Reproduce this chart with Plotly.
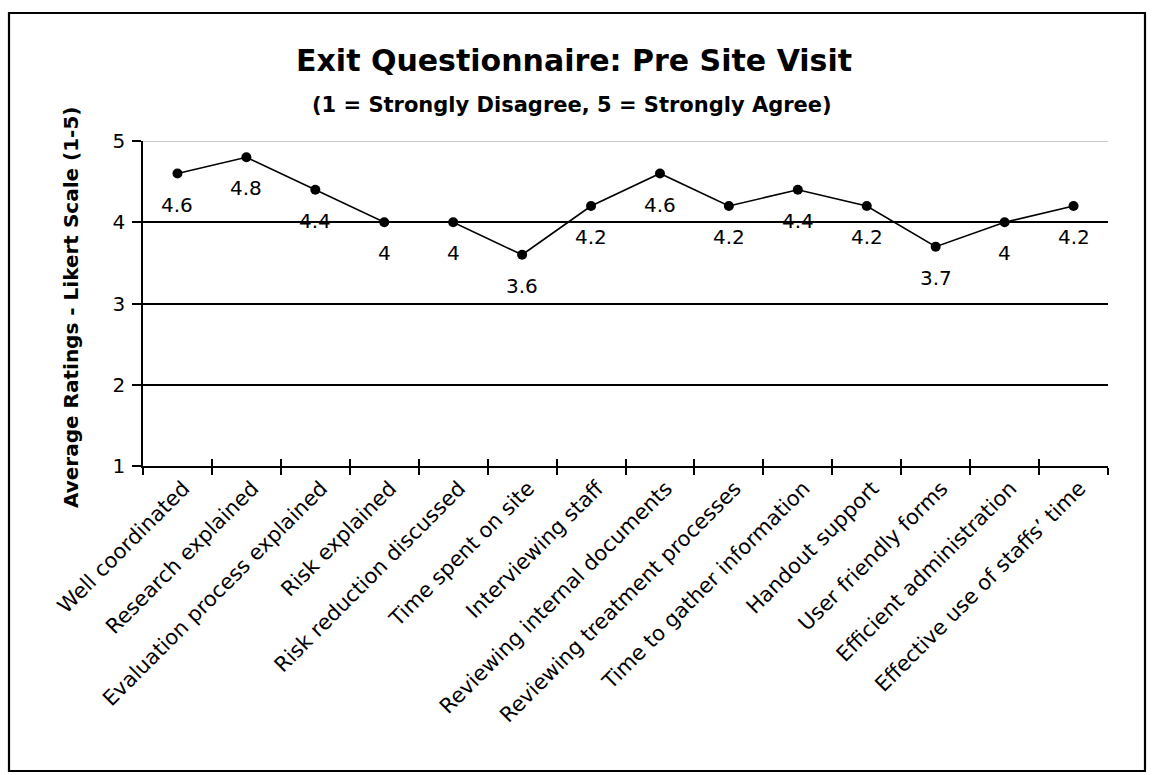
import plotly.graph_objects as go

# ---- data ----
categories = [
    "Well coordinated",
    "Research explained",
    "Evaluation process explained",
    "Risk explained",
    "Risk reduction discussed",
    "Time spent on site",
    "Interviewing staff",
    "Reviewing internal documents",
    "Reviewing treatment processes",
    "Time to gather information",
    "Handout support",
    "User friendly forms",
    "Efficient administration",
    "Effective use of staffs\u2019 time",
]
ratings = [4.6, 4.8, 4.4, 4.0, 4.0, 3.6, 4.2, 4.6, 4.2, 4.4, 4.2, 3.7, 4.0, 4.2]
y_ticks = [1, 2, 3, 4, 5]

title_text = "Exit Questionnaire: Pre Site Visit"
subtitle_text = "(1 = Strongly Disagree, 5 = Strongly Agree)"
ytitle_text = "Average Ratings - Likert Scale (1-5)"

FONT = "DejaVu Sans"
W, H = 1153, 775
L, R, T, B = 143, 1153 - 1108, 141, 775 - 466
PW, PH = W - L - R, H - T - B


def px(x):
    """screen x -> paper x"""
    return (x - L) / PW


def py(y):
    """screen y -> paper y"""
    return (H - B - y) / PH


fig = go.Figure()
fig.add_trace(go.Scatter(
    x=categories, y=ratings, mode="lines+markers",
    line=dict(color="black", width=1.6),
    marker=dict(color="black", size=10),
    hoverinfo="skip", showlegend=False,
))
# invisible trace carrying the overlay axis used for the inner tick halves
fig.add_trace(go.Scatter(
    x=categories, y=ratings, mode="markers", xaxis="x2",
    marker=dict(opacity=0), hoverinfo="skip", showlegend=False,
))

# value labels under each point
for c, v in zip(categories, ratings):
    fig.add_annotation(
        x=c, y=v, xref="x", yref="y", text=f"{v:g}", showarrow=False,
        yshift=-31, font=dict(family=FONT, size=20, color="black"),
    )

# title / subtitle / y title
fig.add_annotation(x=px(574), y=py(60), xref="paper", yref="paper",
                   text=f"<b>{title_text}</b>", showarrow=False,
                   xanchor="center", yanchor="middle",
                   font=dict(family=FONT, size=30, color="black"))
fig.add_annotation(x=px(572), y=py(105), xref="paper", yref="paper",
                   text=f"<b>{subtitle_text}</b>", showarrow=False,
                   xanchor="center", yanchor="middle",
                   font=dict(family=FONT, size=21, color="black"))
fig.add_annotation(x=px(71), y=py(308), xref="paper", yref="paper",
                   text=f"<b>{ytitle_text}</b>", showarrow=False,
                   textangle=-90, xanchor="center", yanchor="middle",
                   font=dict(family=FONT, size=20, color="black"))

# light top gridline at 5
fig.add_shape(type="line", xref="paper", yref="y", x0=0, x1=1,
              y0=y_ticks[-1], y1=y_ticks[-1],
              line=dict(color="#c8c8c8", width=2), layer="below")
# outer chart frame
fig.add_shape(type="rect", xref="paper", yref="paper",
              x0=px(9), x1=px(1145), y0=py(771), y1=py(13),
              line=dict(color="black", width=2.2))

n = len(categories)
fig.update_layout(
    width=W, height=H,
    margin=dict(l=L, r=R, t=T, b=B),
    paper_bgcolor="white", plot_bgcolor="white",
    font=dict(family=FONT, color="black"),
    xaxis=dict(
        type="category", range=[-0.5, n - 0.5], autorange=False,
        tickangle=-45, tickson="boundaries",
        ticks="outside", ticklen=7, tickwidth=1.5, tickcolor="black",
        showline=True, linecolor="black", linewidth=1.6,
        showgrid=False, zeroline=False,
        ticklabelshift=6,
        tickfont=dict(family=FONT, size=21, color="black"),
    ),
    xaxis2=dict(
        type="category", overlaying="x", matches="x", side="bottom",
        tickson="boundaries", ticks="inside", ticklen=7, tickwidth=1.5,
        tickcolor="black", showticklabels=False, showline=False,
        showgrid=False, zeroline=False,
    ),
    yaxis=dict(
        range=[y_ticks[0], y_ticks[-1]], tickvals=y_ticks, autorange=False,
        ticks="outside", ticklen=9, tickwidth=1.5, tickcolor="black",
        showline=True, linecolor="black", linewidth=1.6,
        showgrid=True, gridcolor="black", gridwidth=1.6,
        zeroline=False, ticklabelstandoff=3,
        tickfont=dict(family=FONT, size=20, color="black"),
    ),
)

fig.write_html(
    "out.html",
    config={"displayModeBar": False},
    post_script="document.body.style.margin='0';"
                "document.body.style.overflow='hidden';",
)
